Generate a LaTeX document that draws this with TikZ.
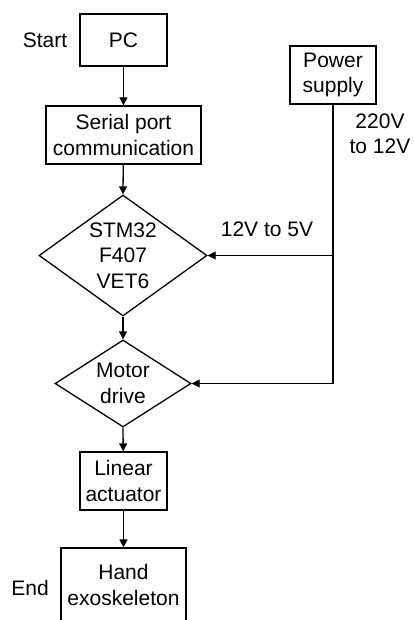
\documentclass[tikz,border=0pt]{standalone}
\usepackage{fontspec}
\setmainfont{Liberation Sans}
\usetikzlibrary{shapes.geometric,arrows.meta}
\begin{document}
\begin{tikzpicture}[x=1pt,y=-1pt,
  every node/.style={font=\fontsize{21}{25.5}\selectfont, align=center, inner sep=0pt},
  box/.style={draw, line width=1.3pt, rectangle},
  dia/.style={draw, line width=1.3pt, diamond},
  conn/.style={line width=1.3pt},
  arr/.style={conn, -{Triangle[length=8pt,width=8pt]}}]
\clip (0,0) rectangle (414,620);
\fill[white] (0,0) rectangle (414,620);
\node[box, minimum width=87pt, minimum height=52pt] (pc) at (123.5,40) {PC};
\node[box, minimum width=155pt, minimum height=58pt] (serial) at (123.5,135) {Serial port\\communication};
\node[dia, minimum width=168pt, minimum height=121pt] (stm) at (123,255.5) {};
\node at (stm) {STM32\\F407\\VET6};
\node[dia, minimum width=136pt, minimum height=87pt] (motor) at (123,383.5) {};
\node at (motor) {Motor\\drive};
\node[box, minimum width=87pt, minimum height=58pt] (linear) at (123.5,481) {Linear\\actuator};
\node[box, minimum width=125pt, minimum height=110pt] (hand) at (123.5,603) {};
\node at (123.5,585) {Hand\\exoskeleton};
\node[box, minimum width=86pt, minimum height=58pt] (power) at (333,75) {Power\\supply};
\node (start) at (45,40) {Start};
\node (end) at (30,588) {End};
\node (v220) at (380,134) {220V\\to 12V};
\node (v12) at (267,229) {12V to 5V};
\coordinate (c1) at (power.south |- stm.east);
\coordinate (c2) at (power.south |- motor.east);
\draw[arr] (pc) -- (serial);
\draw[arr] (serial) -- (stm.north);
\draw[arr] (stm.south) -- (motor.north);
\draw[arr] (motor.south) -- (linear);
\draw[arr] (linear) -- (hand);
\draw[conn] (power.south) -- (c2);
\draw[arr] (c2) -- (motor.east);
\draw[arr] (c1) -- (stm.east);
\end{tikzpicture}
\end{document}
